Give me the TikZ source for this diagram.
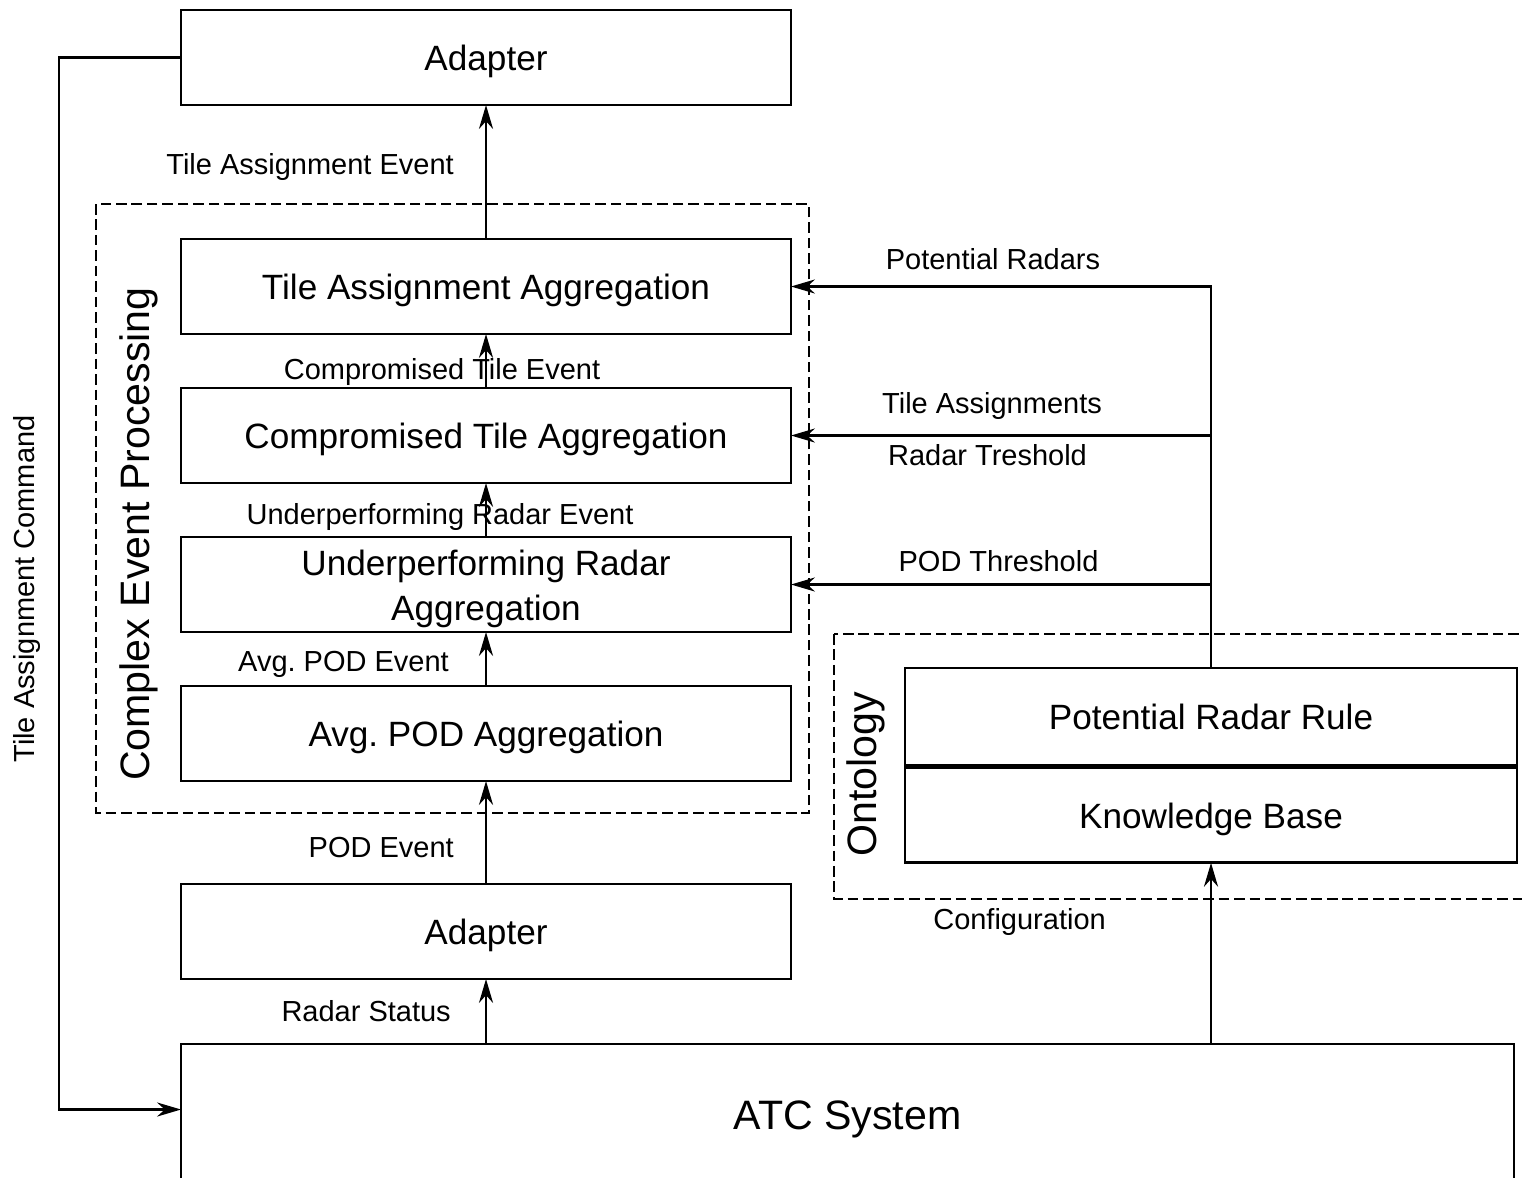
\documentclass[tikz,border=0pt]{standalone}
\usepackage{fontspec}
\setmainfont{Liberation Sans}
\frenchspacing
\usetikzlibrary{arrows.meta,positioning}

\begin{document}
\begin{tikzpicture}[>={Stealth[length=6.8pt,width=4pt,inset=2.2pt]},node distance=0.54cm,
    block/.style={draw,line width=0.8pt,outer sep=0pt,minimum width=6.1cm,minimum height=0.95cm,
      inner sep=0pt,align=center,text height=0.95em,text depth=0.21em,font=\fontsize{10}{12.8}\selectfont},
    rulebox/.style={block,minimum width=6.12cm},
    flow/.style={line width=0.7pt},
    msg/.style={inner sep=0pt,font=\fontsize{8.25}{10}\selectfont,text height=0.72em,text depth=0.21em},
    groupbox/.style={line width=0.75pt,dash pattern=on 3pt off 1.4pt},
    grouptitle/.style={rotate=90,inner sep=0pt,font=\fontsize{11.7}{14}\selectfont}]
  \useasboundingbox (0,0) rectangle (15.22,-11.77);

  % event processing chain
  \node[block] (taa) at (4.86,-2.865) {Tile Assignment Aggregation};
  \node[block] (cta) [below=of taa] {Compromised Tile Aggregation};
  \node[block,text height=2.23em] (ura) [below=of cta] {Underperforming Radar\\Aggregation};
  \node[block] (apa) [below=of ura] {Avg. POD Aggregation};
  \node[block] (adtop) [above=1.34cm of taa] {Adapter};
  \node[block] (adbot) [below=1.03cm of apa] {Adapter};
  \node[block,minimum width=13.33cm,minimum height=1.45cm,font=\fontsize{11.7}{14}\selectfont]
    (atc) [below=0.65cm of adbot.south west,anchor=north west] {ATC System};

  % ontology
  \node[rulebox,minimum height=0.97cm] (prr) at (12.11,-7.165) {Potential Radar Rule};
  \node[rulebox] (kb) [below=0.8pt of prr] {Knowledge Base};

  \draw[groupbox] ([xshift=-0.85cm,yshift=0.35cm]taa.north west) rectangle ([xshift=0.18cm,yshift=-0.32cm]apa.south east);
  \draw[groupbox] ([xshift=-0.71cm,yshift=0.34cm]prr.north west) rectangle ([xshift=0.13cm,yshift=-0.36cm]kb.south east);
  \node[grouptitle] (cepl) at (1.385,-5.34) {Complex Event Processing};
  \node[grouptitle] (ontl) at (8.655,-7.74) {Ontology};
  \node[msg,rotate=90] (cmdl) at (0.26,-5.89) {Tile Assignment Command};

  \path[->,flow]
    (adbot |- atc.north) edge node[msg,pos=0.48,left=0.34cm] {Radar Status} (adbot)
    (adbot) edge node[msg,pos=0.34,left=0.31cm] {POD Event} (apa)
    (apa) edge node[msg,pos=0.44,left=0.36cm] {Avg. POD Event} (ura)
    (ura) edge node[msg,pos=0.40,xshift=-0.46cm] {Underperforming Radar Event} (cta)
    (cta) edge node[msg,pos=0.33,xshift=-0.44cm] {Compromised Tile Event} (taa)
    (taa) edge node[msg,pos=0.55,left=0.31cm] {Tile Assignment Event} (adtop)
    (kb |- atc.north) edge node[msg,pos=0.68,left=1.04cm] {Configuration} (kb);

  \draw[->,flow] (prr.north) |- node[msg,pos=0.75,above=0.08cm,xshift=-0.08cm] {Potential Radars} (taa.east);
  \draw[->,flow] (prr.north |- cta.east) -- node[msg,above=0.13cm,xshift=-0.09cm] {Tile Assignments}
    node[msg,below=0.03cm,xshift=-0.135cm] {Radar Treshold} (cta.east);
  \draw[->,flow] (prr.north |- ura.east) -- node[msg,above=0.04cm,xshift=-0.025cm] {POD Threshold} (ura.east);
  \draw[->,flow] (adtop.west) -- ++(-1.22,0) |- ([yshift=0.07cm]atc.west);
\end{tikzpicture}
\end{document}
